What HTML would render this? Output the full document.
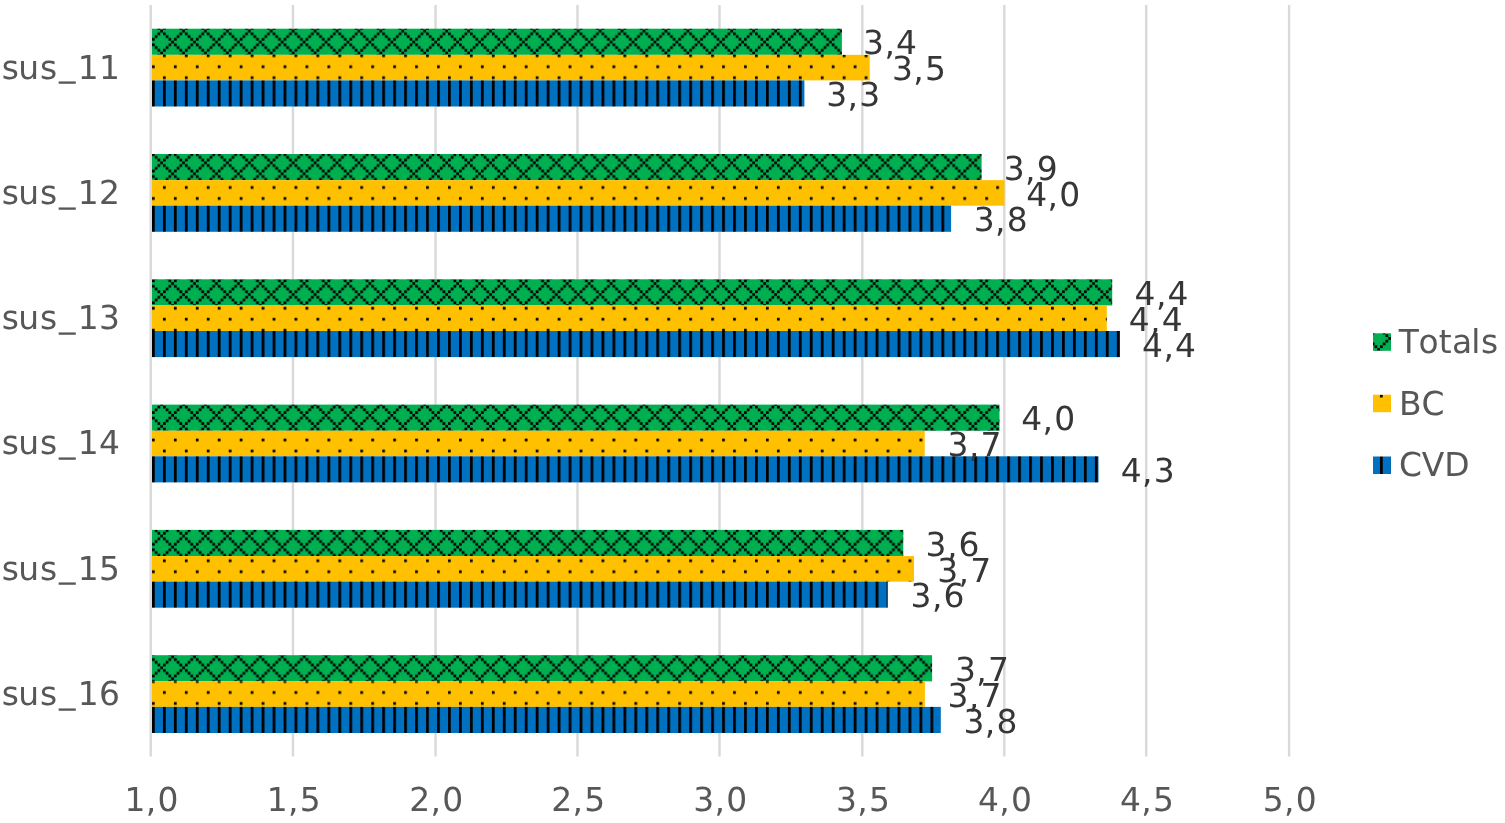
<!DOCTYPE html>
<html><head><meta charset="utf-8"><title>SUS chart</title>
<style>
html,body{margin:0;padding:0;background:#fff;}
body{width:1505px;height:823px;overflow:hidden;}
svg{display:block;}
text{font-family:"DejaVu Sans", "Liberation Sans", sans-serif;font-size:32.9px;text-rendering:geometricPrecision;}
</style></head><body>
<svg width="1505" height="823" viewBox="0 0 1505 823">
<defs>
<pattern id="pg" patternUnits="userSpaceOnUse" x="152" y="29.7" width="21.928" height="21.956">
<rect width="21.928" height="21.956" fill="#00b050"/><g fill="#000"><rect x="0" y="8.233" width="2.741" height="2.744"/><rect x="0" y="13.723" width="2.741" height="2.744"/><rect x="2.741" y="5.489" width="2.741" height="2.744"/><rect x="2.741" y="16.467" width="2.741" height="2.744"/><rect x="5.482" y="2.744" width="2.741" height="2.744"/><rect x="5.482" y="19.212" width="2.741" height="2.744"/><rect x="8.223" y="0" width="2.741" height="2.744"/><rect x="10.964" y="2.744" width="2.741" height="2.744"/><rect x="10.964" y="19.212" width="2.741" height="2.744"/><rect x="13.705" y="5.489" width="2.741" height="2.744"/><rect x="13.705" y="16.467" width="2.741" height="2.744"/><rect x="16.446" y="8.233" width="2.741" height="2.744"/><rect x="16.446" y="13.723" width="2.741" height="2.744"/><rect x="19.187" y="10.978" width="2.741" height="2.744"/></g></pattern>
<pattern id="py" patternUnits="userSpaceOnUse" x="152" y="29.7" width="21.928" height="21.956">
<rect width="21.928" height="21.956" fill="#ffc000"/><g fill="#000"><rect x="10.964" y="2.744" width="2.741" height="2.744"/><rect x="0" y="13.723" width="2.741" height="2.744"/></g></pattern>
<pattern id="pb" patternUnits="userSpaceOnUse" x="152" y="29.7" width="21.928" height="21.956">
<rect width="21.928" height="21.956" fill="#0070c0"/><g fill="#000"><rect x="0" y="0" width="2.741" height="21.956"/><rect x="10.964" y="0" width="2.741" height="21.956"/></g></pattern>
</defs>
<rect width="1505" height="823" fill="#fff"/>
<g fill="#d9d9d9"><rect x="149.5" y="5" width="2.4" height="751.5"/><rect x="291.75" y="5" width="2.4" height="751.5"/><rect x="434.36" y="5" width="2.4" height="751.5"/><rect x="576.3" y="5" width="2.4" height="751.5"/><rect x="718.3" y="5" width="2.4" height="751.5"/><rect x="861.1" y="5" width="2.4" height="751.5"/><rect x="1003.1" y="5" width="2.4" height="751.5"/><rect x="1145" y="5" width="2.4" height="751.5"/><rect x="1287.9" y="5" width="2.4" height="751.5"/></g>
<g><rect x="152" y="28.7" width="689.9" height="26.15" fill="url(#pg)"/><rect x="152" y="54.85" width="717.7" height="25.55" fill="url(#py)"/><rect x="152" y="80.4" width="652.4" height="26.1" fill="url(#pb)"/><rect x="152" y="154" width="829.6" height="26.15" fill="url(#pg)"/><rect x="152" y="180.15" width="852.5" height="25.55" fill="url(#py)"/><rect x="152" y="205.7" width="799.1" height="26.1" fill="url(#pb)"/><rect x="152" y="279.3" width="960.2" height="26.15" fill="url(#pg)"/><rect x="152" y="305.45" width="954.8" height="25.55" fill="url(#py)"/><rect x="152" y="331" width="968" height="26.1" fill="url(#pb)"/><rect x="152" y="404.6" width="847.5" height="26.15" fill="url(#pg)"/><rect x="152" y="430.75" width="772.7" height="25.55" fill="url(#py)"/><rect x="152" y="456.3" width="946.5" height="26.1" fill="url(#pb)"/><rect x="152" y="529.9" width="751.3" height="26.15" fill="url(#pg)"/><rect x="152" y="556.05" width="762" height="25.55" fill="url(#py)"/><rect x="152" y="581.6" width="735.7" height="26.1" fill="url(#pb)"/><rect x="152" y="655.2" width="780.1" height="26.15" fill="url(#pg)"/><rect x="152" y="681.35" width="772.9" height="25.55" fill="url(#py)"/><rect x="152" y="706.9" width="788.8" height="26.1" fill="url(#pb)"/></g>
<g fill="#575757"><text x="1.75 18.32 40.1 59 77.64 99.1" y="78.5" dy="0 0 0 -2.3 2.3 0">sus_11</text><text x="1.75 18.32 40.1 59 77.64 99.1" y="203.8" dy="0 0 0 -2.3 2.3 0">sus_12</text><text x="1.75 18.32 40.1 59 77.64 99.1" y="329.1" dy="0 0 0 -2.3 2.3 0">sus_13</text><text x="1.75 18.32 40.1 59 77.64 99.1" y="454.4" dy="0 0 0 -2.3 2.3 0">sus_14</text><text x="1.75 18.32 40.1 59 77.64 99.1" y="579.7" dy="0 0 0 -2.3 2.3 0">sus_15</text><text x="1.75 18.32 40.1 59 77.64 99.1" y="705" dy="0 0 0 -2.3 2.3 0">sus_16</text></g>
<g fill="#575757"><text x="124.38 145.68 157.38" y="811.1" dy="0 1 -1">1,0</text><text x="266.63 287.93 299.63" y="811.1" dy="0 1 -1">1,5</text><text x="409.24 430.54 442.24" y="811.1" dy="0 1 -1">2,0</text><text x="551.18 572.48 584.18" y="811.1" dy="0 1 -1">2,5</text><text x="693.18 714.48 726.18" y="811.1" dy="0 1 -1">3,0</text><text x="835.98 857.28 868.98" y="811.1" dy="0 1 -1">3,5</text><text x="977.98 999.28 1010.98" y="811.1" dy="0 1 -1">4,0</text><text x="1119.88 1141.18 1152.88" y="811.1" dy="0 1 -1">4,5</text><text x="1262.78 1284.08 1295.78" y="811.1" dy="0 1 -1">5,0</text></g>
<g fill="#363636"><text x="863.1 884.4 896.1" y="54.3" dy="0 1 -1">3,4</text><text x="892 913.3 925" y="80.45" dy="0 1 -1">3,5</text><text x="826.2 847.5 859.2" y="106" dy="0 1 -1">3,3</text><text x="1003.7 1025 1036.7" y="179.6" dy="0 1 -1">3,9</text><text x="1026.288 1047.588 1059.288" y="205.75" dy="0 1 -1">4,0</text><text x="973.7 995 1006.7" y="231.3" dy="0 1 -1">3,8</text><text x="1134.588 1155.888 1167.588" y="304.9" dy="0 1 -1">4,4</text><text x="1128.788 1150.088 1161.788" y="331.05" dy="0 1 -1">4,4</text><text x="1142.088 1163.388 1175.088" y="356.6" dy="0 1 -1">4,4</text><text x="1021.188 1042.488 1054.188" y="430.2" dy="0 1 -1">4,0</text><text x="947.4 968.7 980.4" y="456.35" dy="0 1 -1">3,7</text><text x="1120.688 1141.988 1153.688" y="481.9" dy="0 1 -1">4,3</text><text x="925.6 946.9 958.6" y="555.5" dy="0 1 -1">3,6</text><text x="937.2 958.5 970.2" y="581.65" dy="0 1 -1">3,7</text><text x="910.6 931.9 943.6" y="607.2" dy="0 1 -1">3,6</text><text x="955 976.3 988" y="680.8" dy="0 1 -1">3,7</text><text x="947.5 968.8 980.5" y="706.95" dy="0 1 -1">3,7</text><text x="963.5 984.8 996.5" y="732.5" dy="0 1 -1">3,8</text></g>
<g fill="#575757"><rect x="1373" y="333.3" width="18" height="17.5" fill="url(#pg)"/><text x="1398.8 1418.43 1438.65 1451.88 1471.33 1481" y="353.2">Totals</text><rect x="1373" y="394.7" width="18" height="17.5" fill="url(#py)"/><text x="1399.1 1421.5" y="414.5">BC</text><rect x="1373" y="456.5" width="18" height="17.5" fill="url(#pb)"/><text x="1399.1 1421.75 1444.3" y="476">CVD</text></g>
</svg>
</body></html>
